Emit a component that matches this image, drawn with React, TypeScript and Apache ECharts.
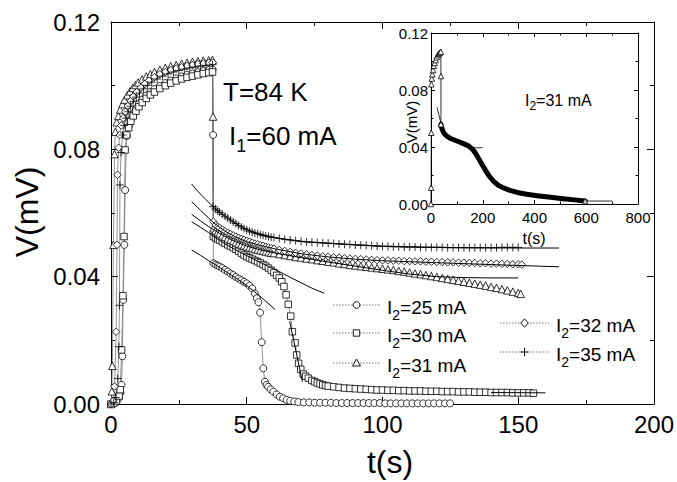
import React, { useEffect, useRef } from 'react';
import * as echarts from 'echarts';

const FONT = '"Liberation Sans", Arial, Helvetica, sans-serif';

// ---------- main plot data: [t (s), V (mV)] ----------
const s25: number[][] = [
  [0,0],[1,0.0002],[2,0.0006],[3,0.002],[3.5,0.0035],[3.9,0.006],[4.2,0.015],[4.5,0.0327],[4.9,0.05],[5.2,0.0672],[5.8,0.0842],[6.5,0.0872],[7.3,0.0894],[8.2,0.0912],[9.2,0.0928],[10.3,0.0943],[11.5,0.0956],[13,0.0969],[14.5,0.098],[16,0.0989],[18,0.0999],[20,0.1008],[22,0.1016],[24,0.1023],[26,0.1029],[28,0.1034],[30,0.1038],[32,0.1042],[34,0.1046],[36,0.1049],[37.4,0.1051],
  [37.6,0.0845],[37.7,0.0442],[38.5,0.0438],[39.3,0.0435],[40,0.0432],[41,0.0427],[42,0.0421],[43,0.0416],[44,0.041],[45,0.0405],[46,0.0399],[47,0.0394],[48,0.0389],[49,0.0384],[50,0.0379],[51,0.0372],[52,0.0363],[53,0.0347],[53.7,0.0332],[54.3,0.032],[54.9,0.0287],[55.5,0.0194],[56.1,0.0112],[56.7,0.007],[57.3,0.006],[57.9,0.0054],[58.8,0.0046],[59.8,0.0039],[61,0.003],[62.2,0.0023],[63.4,0.0018],[64.7,0.0013],[66,0.001],[67.5,0.0008],[69,0.0006],
  [71,0.0005],[73,0.0005],[75,0.0004],[77,0.0004],[79,0.0004],[81,0.0004],[83,0.0003],[85,0.0003],[87,0.0003],[89,0.0003],[91,0.0003],[93,0.0003],[95,0.0003],[97,0.0003],[99,0.0003],[101,0.0002],[103,0.0002],[105,0.0002],[107,0.0002],[109,0.0002],[111,0.0002],[113,0.0002],[115,0.0002],[117,0.0002],[119,0.0002],[121,0.0002],[123,0.0002],[124.9,0.0002]
];
const s30: number[][] = [
  [0,0],[1,0.0003],[2,0.001],[3,0.0025],[3.4,0.0045],[3.9,0.017],[4.4,0.034],[4.8,0.0526],[5.2,0.0798],[5.8,0.0845],[6.5,0.0868],[7.3,0.0888],[8.2,0.0905],[9.2,0.092],[10.3,0.0934],[11.5,0.0947],[13,0.096],[14.5,0.0971],[16,0.098],[18,0.0991],[20,0.1],[22,0.1008],[24,0.1015],[26,0.1021],[28,0.1026],[30,0.103],[32,0.1034],[34,0.1038],[36,0.1041],[37.4,0.1043],
  [37.7,0.0526],[38.5,0.0522],[39.3,0.0518],[40,0.0515],[41,0.051],[42,0.0505],[43,0.05],[44,0.0496],[45,0.0491],[46,0.0486],[47,0.048],[48,0.0474],[49,0.0468],[50,0.0463],[51,0.0459],[52,0.0455],[53,0.0451],[54,0.0447],[55,0.0443],[56,0.0438],[57,0.0433],[58,0.0427],[59,0.042],[60,0.0413],[61,0.0404],[62,0.0396],[62.9,0.0384],[63.7,0.0369],[64.5,0.0343],[65.3,0.0313],[66.2,0.0276],[66.8,0.0227],[67.8,0.0192],[68.4,0.0154],[69.1,0.0128],[69.9,0.0109],[70.8,0.0094],[71.7,0.0087],[72.7,0.0081],[74,0.0074],[75,0.007],[76,0.0066],[77,0.0063],[78,0.006],[79,0.0058],[80,0.0056],[82,0.0054],[84,0.0052],
  [86,0.005],[88,0.0049],[90,0.0048],[92,0.0047],[94,0.0046],[96,0.0045],[98,0.0044],[100,0.0044],[102,0.0043],[104,0.0043],[106,0.0042],[108,0.0042],[110,0.0041],[112,0.0041],[114,0.0041],[116,0.004],[118,0.004],[120,0.004],[122,0.0039],[124,0.0039],[126,0.0039],[128,0.0038],[130,0.0038],[132,0.0038],[134,0.0037],[136,0.0037],[138,0.0037],[140,0.0036],[142,0.0036],[144,0.0036],[146,0.0036],[148,0.0035],[150,0.0035],[152,0.0035],[154,0.0035],[155.6,0.0034]
];
const s31: number[][] = [
  [0,0],[0.3,0.004],[0.5,0.012],[0.9,0.05],[1.3,0.0785],[1.6,0.0855],[2.1,0.0885],[2.7,0.0905],[3.4,0.0925],[4.2,0.0942],[5,0.0956],[6,0.097],[7,0.0982],[8,0.0993],[9,0.1002],[10,0.101],[11.5,0.102],[13,0.1029],[14.5,0.1036],[16,0.1043],[18,0.105],[20,0.1056],[22,0.1061],[24,0.1065],[26,0.1069],[28,0.1072],[30,0.1075],[32,0.1077],[34,0.1079],[36,0.108],[37.4,0.1081],
  [37.6,0.0903],[37.7,0.0552],[38.5,0.0545],[39.3,0.054],[40,0.0536],[41,0.053],[42,0.0525],[43,0.052],[44,0.0516],[45,0.0512],[46,0.0508],[47,0.0504],[48,0.0501],[49,0.0498],[50,0.0495],[51,0.0492],[52,0.049],[53,0.0487],[54,0.0485],[55,0.0483],[56,0.0481],[57,0.0479],[58,0.0477],[59,0.0475],[60,0.0474],
  [62,0.0471],[64,0.0468],[66,0.0465],[68,0.0462],[70,0.046],[72,0.0457],[74,0.0455],[76,0.0452],[78,0.045],[80,0.0447],[82,0.0445],[84,0.0442],[86,0.044],[88,0.0437],[90,0.0435],[92,0.0433],[94,0.0431],[96,0.0429],[98,0.0427],[100,0.0425],[102,0.0423],[104,0.0421],[106,0.0418],[108,0.0416],[110,0.0413],[112,0.041],[114,0.0408],[116,0.0405],[118,0.0402],[120,0.0399],[122,0.0396],[124,0.0393],[126,0.039],[128,0.0387],[130,0.0384],[132,0.0381],[134,0.0378],[136,0.0375],[138,0.0372],[140,0.0368],[142,0.0365],[144,0.0361],[146,0.0357],[148,0.0353],[150,0.0349],[150.9,0.0346]
];
const s32: number[][] = [
  [0,0],[0.8,0.001],[1.3,0.0055],[1.9,0.0227],[2.2,0.05],[2.4,0.072],[2.8,0.0805],[3.2,0.0845],[3.8,0.0875],[4.5,0.0898],[5.3,0.0918],[6.2,0.0936],[7.2,0.0952],[8.2,0.0966],[9.5,0.098],[11,0.0994],[12.5,0.1006],[14,0.1016],[16,0.1027],[18,0.1036],[20,0.1043],[22,0.1049],[24,0.1054],[26,0.1058],[28,0.1062],[30,0.1065],[32,0.1068],[34,0.107],[36,0.1072],[37.5,0.1073],
  [37.7,0.0573],[38.5,0.0562],[39.3,0.0557],[40,0.0554],[41,0.0548],[42,0.0543],[43,0.0538],[44,0.0534],[45,0.053],[46,0.0526],[47,0.0522],[48,0.0519],[49,0.0516],[50,0.0513],[51,0.051],[52,0.0507],[53,0.0504],[54,0.0502],[55,0.0499],[56,0.0497],[57,0.0494],[58,0.0492],[59,0.049],[60,0.0488],
  [62,0.0484],[64,0.0481],[66,0.0478],[68,0.0475],[70,0.0473],[72,0.047],[74,0.0468],[76,0.0466],[78,0.0464],[80,0.0463],[82,0.0461],[84,0.046],[86,0.0458],[88,0.0457],[90,0.0456],[92,0.0455],[94,0.0454],[96,0.0453],[98,0.0452],[100,0.0451],[102,0.0451],[104,0.045],[106,0.045],[108,0.0449],[110,0.0449],[112,0.0448],[114,0.0448],[116,0.0447],[118,0.0447],[120,0.0446],[122,0.0446],[124,0.0445],[126,0.0445],[128,0.0444],[130,0.0444],[132,0.0443],[134,0.0443],[136,0.0442],[138,0.0442],[140,0.0441],[142,0.0441],[144,0.044],[146,0.044],[148,0.0439],[150,0.0439],[151.3,0.0438]
];
const s35: number[][] = [
  [0,0],[1,0.0005],[1.8,0.002],[2.5,0.008],[2.9,0.018],[3.1,0.031],[3.3,0.0688],[3.7,0.079],[4.2,0.0845],[4.8,0.0875],[5.5,0.0898],[6.3,0.0918],[7.2,0.0935],[8.2,0.095],[9.3,0.0964],[10.5,0.0977],[12,0.099],[13.5,0.1001],[15,0.1011],[17,0.1021],[19,0.103],[21,0.1037],[23,0.1043],[25,0.1048],[27,0.1052],[29,0.1056],[31,0.1059],[33,0.1062],[35,0.1064],[37.4,0.1066],
  [37.6,0.062],[38.5,0.0613],[39.3,0.0607],[40,0.0602],[41,0.0596],[42,0.059],[43,0.0584],[44,0.0578],[45,0.0572],[46,0.0567],[47,0.0561],[48,0.0556],[49,0.0551],[50,0.0547],[51,0.0543],[52,0.054],[53,0.0537],[54,0.0535],[55,0.0532],[56,0.053],[57,0.0528],[58,0.0526],[59,0.0524],[60,0.0523],
  [62,0.052],[64,0.0517],[66,0.0515],[68,0.0513],[70,0.0511],[72,0.0509],[74,0.0508],[76,0.0507],[78,0.0506],[80,0.0505],[82,0.0504],[84,0.0503],[86,0.0502],[88,0.0501],[90,0.05],[92,0.0499],[94,0.0498],[96,0.0497],[98,0.0496],[100,0.0495],[102,0.0495],[104,0.0494],[106,0.0494],[108,0.0493],[110,0.0493],[112,0.0493],[114,0.0492],[116,0.0492],[118,0.0492],[120,0.0492],[122,0.0492],[124,0.0491],[126,0.0491],[128,0.0491],[130,0.0491],[132,0.0491],[134,0.0491],[136,0.0491],[138,0.0491],[140,0.0491],[142,0.0491],[144,0.0492],[146,0.0492],[148,0.0492],[150,0.0492]
];

// fitted curves (solid lines)
const fit25: number[][] = [[29.7,0.0484],[33,0.0467],[36,0.045],[38,0.044],[42,0.0418],[46,0.0396],[50,0.0372],[54,0.0345],[57,0.0323],[60.4,0.0297]];
const fit30: number[][] = [[29.7,0.0573],[33,0.0555],[36,0.0538],[38,0.0525],[42,0.0503],[46,0.0484],[50,0.0466],[54,0.0449],[58,0.0432],[62,0.0416],[66,0.0398],[70,0.0381],[74,0.0364],[78.5,0.0348]];
const fit30drop: number[][] = [[65.8,0.026],[70.5,0.007]];
const fit30tail: number[][] = [[140,0.0036],[160,0.0035]];
const fit31: number[][] = [[29.7,0.0596],[33,0.0575],[36,0.0557],[38,0.0546],[42,0.0526],[46,0.0509],[50,0.0496],[55,0.0484],[60,0.0475],[70,0.046],[80,0.0446],[90,0.0433],[100,0.042],[110,0.0408],[120,0.04],[130,0.0397],[140,0.0396],[150,0.0396]];
const fit32: number[][] = [[29.7,0.0636],[33,0.0608],[36,0.0584],[38,0.0568],[42,0.0543],[46,0.0524],[50,0.051],[55,0.0498],[60,0.0488],[70,0.0472],[80,0.0462],[90,0.0455],[100,0.045],[120,0.0444],[140,0.0438],[165,0.0431]];
const fit35: number[][] = [[29.7,0.0691],[32,0.0668],[35,0.0642],[38,0.0616],[42,0.059],[46,0.0567],[50,0.0548],[55,0.0533],[60,0.0523],[70,0.0511],[80,0.0505],[90,0.05],[100,0.0496],[115,0.0493],[130,0.0491],[150,0.049],[165,0.049]];

// inset data (I2 = 31 mA, long run)
const insetRise: number[][] = [[0,0],[0.5,0.0114],[1,0.05],[1.5,0.084],[3,0.088],[5,0.091],[8,0.094],[11,0.097],[14,0.099],[18,0.101],[22,0.103],[26,0.1045],[30,0.1055],[34,0.1062],[38,0.1068],[38.5,0.0898],[38.5,0.056]];
const insetDecay: number[][] = [[38.5,0.056],[42,0.053],[50,0.0497],[60,0.0478],[75,0.046],[90,0.0449],[110,0.0435],[130,0.042],[145,0.0408],[160,0.0385],[170,0.0362],[180,0.0332],[195,0.0285],[210,0.0238],[225,0.0195],[243,0.0157],[260,0.0132],[280,0.0113],[305,0.0096],[333,0.0081],[370,0.0068],[410,0.0058],[462,0.0047],[510,0.0037],[555,0.0029],[596,0.0021]];
const insetEnd: number[][] = [[596,0.0021]];
const insetFitA: number[][] = [[23,0.0679],[38.5,0.0568]];
const insetFitB: number[][] = [[141,0.0395],[199,0.0395]];
const insetFitC: number[][] = [[596,0.0021],[700,0.0021]];

const mainXTicks = { min: 0, max: 200, interval: 50 };
const mainYTicks = { min: 0, max: 0.12, interval: 0.04 };
const insetXTicks = { min: 0, max: 800, interval: 200 };
const insetYTicks = { min: 0, max: 0.12, interval: 0.04 };

const legendLabels = ['25', '30', '31', '32', '35'];

const PLUS = 'path://M5,0L5,10M0,5L10,5';

function dataSeries(data: number[][], symbol: string, size: number) {
  return {
    type: 'line', data, xAxisIndex: 0, yAxisIndex: 0,
    symbol, symbolSize: size, showSymbol: true,
    lineStyle: { color: '#777', width: 0.8 },
    itemStyle: { color: '#fff', borderColor: '#000', borderWidth: 0.8 },
    emphasis: { disabled: true }, silent: true, z: 2,
  };
}
function fitSeries(data: number[][], xi = 0, yi = 0, w = 1) {
  return {
    type: 'line', data, xAxisIndex: xi, yAxisIndex: yi, showSymbol: false, symbol: 'none',
    lineStyle: { color: '#000', width: w }, emphasis: { disabled: true }, silent: true, z: 4,
  };
}

function axisCommon(fontSize: number, major: number, minor: number, showLabel: boolean, margin: number, fmt?: (v: number) => string) {
  return {
    type: 'value',
    axisLine: { show: true, onZero: false, lineStyle: { color: '#000', width: 1 } },
    axisTick: { show: true, inside: true, length: major, lineStyle: { color: '#000', width: 1 } },
    minorTick: { show: true, splitNumber: 2, length: minor, lineStyle: { color: '#000', width: 1 } },
    splitLine: { show: false },
    minorSplitLine: { show: false },
    axisLabel: { show: showLabel, fontSize, color: '#000', fontFamily: FONT, margin, formatter: fmt },
  };
}

const fmt2 = (v: number) => v.toFixed(2);

function subText(x: number, y: number, main: string, sub: string, rest: string, fs: number, sfs: number, lh: number) {
  return {
    type: 'text', x, y, z: 100,
    style: {
      text: `{a|${main}}{s|${sub}}{a|${rest}}`,
      align: 'left', verticalAlign: 'middle',
      rich: {
        a: { fontSize: fs, fontFamily: FONT, fill: '#000', color: '#000', lineHeight: lh },
        s: { fontSize: sfs, fontFamily: FONT, fill: '#000', color: '#000', lineHeight: sfs, verticalAlign: 'bottom' },
      },
    },
  };
}

function legendMarker(kind: string, cx: number, cy: number): any[] {
  const st = { fill: '#fff', stroke: '#000', lineWidth: 0.9 };
  if (kind === 'circle') return [{ type: 'circle', shape: { cx, cy, r: 3.4 }, style: st, z: 101 }];
  if (kind === 'rect') return [{ type: 'rect', shape: { x: cx - 3.2, y: cy - 3.2, width: 6.4, height: 6.4 }, style: st, z: 101 }];
  if (kind === 'triangle') return [{ type: 'polygon', shape: { points: [[cx, cy - 4], [cx + 4, cy + 3], [cx - 4, cy + 3]] }, style: st, z: 101 }];
  if (kind === 'diamond') return [{ type: 'polygon', shape: { points: [[cx, cy - 4.2], [cx + 3.8, cy], [cx, cy + 4.2], [cx - 3.8, cy]] }, style: st, z: 101 }];
  return [
    { type: 'line', shape: { x1: cx - 4, y1: cy, x2: cx + 4, y2: cy }, style: { stroke: '#000', lineWidth: 1 }, z: 101 },
    { type: 'line', shape: { x1: cx, y1: cy - 4, x2: cx, y2: cy + 4 }, style: { stroke: '#000', lineWidth: 1 }, z: 101 },
  ];
}

const legendLayout = [
  { kind: 'circle', x1: 333, x2: 380, y: 305 },
  { kind: 'rect', x1: 333, x2: 380, y: 333 },
  { kind: 'triangle', x1: 333, x2: 380, y: 363 },
  { kind: 'diamond', x1: 500, x2: 549, y: 323 },
  { kind: 'plus', x1: 500, x2: 549, y: 352 },
];

export default function App() {
  const ref = useRef<HTMLDivElement>(null);
  useEffect(() => {
    const chart = echarts.init(ref.current!, null, { renderer: 'svg' });

    const legendGraphics: any[] = [];
    legendLayout.forEach((l, i) => {
      legendGraphics.push({ type: 'line', shape: { x1: l.x1, y1: l.y, x2: l.x2, y2: l.y }, style: { stroke: '#555', lineWidth: 0.8, lineDash: [1.5, 1.5] }, z: 100 });
      legendGraphics.push(...legendMarker(l.kind, (l.x1 + l.x2) / 2, l.y));
      legendGraphics.push(subText(l.x2 + 7, l.y + 2, 'I', '2', `=${legendLabels[i]} mA`, 19, 14, 30));
    });

    const option: any = {
      animation: false,
      backgroundColor: '#fff',
      textStyle: { fontFamily: FONT },
      grid: [
        { left: 111, top: 22, width: 543, height: 382 },
        { left: 431, top: 33, width: 207, height: 171 },
      ],
      xAxis: [
        { ...axisCommon(24, 7, 4, true, 8), gridIndex: 0, position: 'bottom', ...mainXTicks },
        { ...axisCommon(24, 7, 4, false, 8), gridIndex: 0, position: 'top', ...mainXTicks },
        { ...axisCommon(15, 4, 2.5, true, 6), gridIndex: 1, position: 'bottom', ...insetXTicks },
        { ...axisCommon(15, 4, 2.5, false, 6), gridIndex: 1, position: 'top', ...insetXTicks },
      ],
      yAxis: [
        { ...axisCommon(24, 7, 4, true, 11, fmt2), gridIndex: 0, position: 'left', ...mainYTicks },
        { ...axisCommon(24, 7, 4, false, 8), gridIndex: 0, position: 'right', ...mainYTicks },
        { ...axisCommon(15, 4, 2.5, true, 3, fmt2), gridIndex: 1, position: 'left', ...insetYTicks },
        { ...axisCommon(15, 4, 2.5, false, 3), gridIndex: 1, position: 'right', ...insetYTicks },
      ],
      series: [
        dataSeries(s25, 'circle', 7),
        dataSeries(s30, 'rect', 6.5),
        dataSeries(s31, 'triangle', 7.5),
        dataSeries(s32, 'diamond', 7.5),
        dataSeries(s35, PLUS, 8),
        fitSeries(fit25), fitSeries(fit30), fitSeries(fit30drop), fitSeries(fit30tail),
        fitSeries(fit31), fitSeries(fit32), fitSeries(fit35),
        {
          type: 'line', data: insetDecay, xAxisIndex: 2, yAxisIndex: 2, showSymbol: false, symbol: 'none',
          lineStyle: { color: '#000', width: 5, cap: 'round', join: 'round' }, silent: true, z: 3,
        },
        {
          type: 'line', data: insetRise, xAxisIndex: 2, yAxisIndex: 2, symbol: 'triangle', symbolSize: 5.5, showSymbol: true,
          lineStyle: { color: '#000', width: 0.8 }, itemStyle: { color: '#fff', borderColor: '#000', borderWidth: 0.8 }, silent: true, z: 3,
        },
        {
          type: 'scatter', data: insetEnd, xAxisIndex: 2, yAxisIndex: 2, symbol: 'triangle', symbolSize: 5.5,
          itemStyle: { color: '#fff', borderColor: '#000', borderWidth: 0.8 }, silent: true, z: 5,
        },
        fitSeries(insetFitA, 2, 2, 0.8), fitSeries(insetFitB, 2, 2, 0.8), fitSeries(insetFitC, 2, 2, 0.8),
      ],
      graphic: [
        { type: 'text', x: 223, y: 92, z: 100, style: { text: 'T=84 K', fontSize: 26, fontFamily: FONT, fill: '#000', align: 'left', verticalAlign: 'middle' } },
        subText(229, 136, 'I', '1', '=60 mA', 26, 18, 38),
        { type: 'text', x: 27, y: 212, rotation: Math.PI / 2, z: 100, style: { text: 'V(mV)', fontSize: 32, fontFamily: FONT, fill: '#000', align: 'center', verticalAlign: 'middle' } },
        { type: 'text', x: 390, y: 462, z: 100, style: { text: 't(s)', fontSize: 32, fontFamily: FONT, fill: '#000', align: 'center', verticalAlign: 'middle' } },
        { type: 'text', x: 411, y: 122, rotation: Math.PI / 2, z: 100, style: { text: 'V(mV)', fontSize: 15, fontFamily: FONT, fill: '#000', align: 'center', verticalAlign: 'middle' } },
        { type: 'text', x: 534, y: 238, z: 100, style: { text: 't(s)', fontSize: 16, fontFamily: FONT, fill: '#000', align: 'center', verticalAlign: 'middle' } },
        subText(525, 100, 'I', '2', '=31 mA', 16, 12, 24),
        ...legendGraphics,
      ],
    };
    chart.setOption(option);
    return () => chart.dispose();
  }, []);
  return <div ref={ref} style={{ position: 'absolute', left: 0, top: 0, width: 677, height: 482 }} />;
}
